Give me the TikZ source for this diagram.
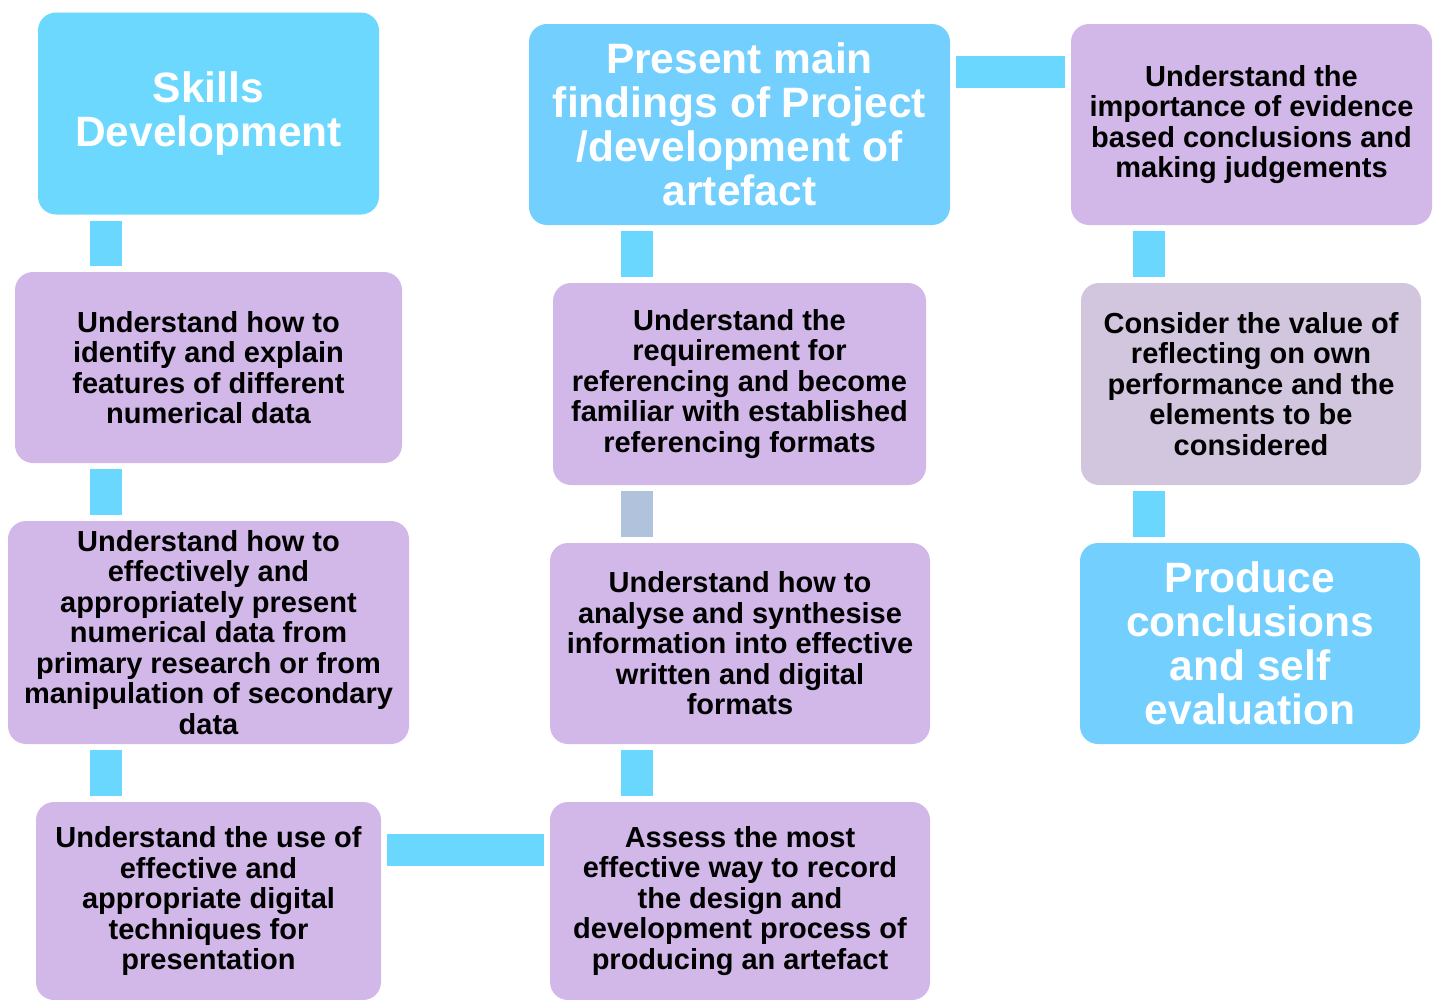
\documentclass[tikz,border=0pt]{standalone}
\usepackage{fontspec}
\setmainfont{Liberation Sans}
\definecolor{skillblue}{HTML}{6CD8FE}
\definecolor{headblue}{HTML}{72CFFE}
\definecolor{lilac}{HTML}{D2B8E8}
\definecolor{greylilac}{HTML}{D2C5DE}
\definecolor{linkblue}{HTML}{6AD7FF}
\definecolor{linkgrey}{HTML}{B0C2DC}
\newcommand{\bodyfont}{\fontsize{29}{30.5}\selectfont\bfseries}
\newcommand{\headfont}{\fontsize{42.5}{44}\selectfont\bfseries}
\begin{document}
\begin{tikzpicture}[x=1pt, y=-1pt,
        stepbox/.style={rounded corners=18pt, fill=lilac, inner sep=0pt, align=center, font=\bodyfont},
        headbox/.style={rounded corners=18pt, fill=headblue, text=white, inner sep=0pt, align=center, font=\headfont},
        link/.style={line width=32pt, draw=linkblue, shorten <=6pt, shorten >=6pt}]
        \useasboundingbox (0, 0) rectangle (1437, 999);
        % first column
        \node[headbox, fill=skillblue, minimum width=341pt, minimum height=202pt] (skills) at (208.5, 113.5) {Skills\\Development};
        \node[stepbox, minimum width=387pt, minimum height=191pt] (numdata) at (208.5, 367.5) {Understand how to\\identify and explain\\features of different\\numerical data};
        \node[stepbox, minimum width=401pt, minimum height=223pt] (presentdata) at (208.5, 632.5) {Understand how to\\effectively and\\appropriately present\\numerical data from\\primary research or from\\manipulation of secondary\\data};
        \node[stepbox, minimum width=345pt, minimum height=198pt] (digital) at (208.5, 901) {Understand the use of\\effective and\\appropriate digital\\techniques for\\presentation};
        % second column
        \node[headbox, minimum width=421pt, minimum height=201pt] (findings) at (739.5, 124.5) {Present main\\findings of Project\\/development of\\artefact};
        \node[stepbox, minimum width=373pt, minimum height=202pt] (referencing) at (739.5, 384) {Understand the\\requirement for\\referencing and become\\familiar with established\\referencing formats};
        \node[stepbox, minimum width=380pt, minimum height=201pt] (synthesise) at (740, 643.5) {Understand how to\\analyse and synthesise\\information into effective\\written and digital\\formats};
        \node[stepbox, minimum width=380pt, minimum height=198pt] (record) at (740, 901) {Assess the most\\effective way to record\\the design and\\development process of\\producing an artefact};
        % third column
        \node[stepbox, minimum width=361pt, minimum height=201pt] (evidence) at (1251.5, 124.5) {Understand the\\importance of evidence\\based conclusions and\\making judgements};
        \node[stepbox, fill=greylilac, minimum width=340pt, minimum height=202pt] (reflect) at (1251, 384) {Consider the value of\\reflecting on own\\performance and the\\elements to be\\considered};
        \node[headbox, minimum width=340pt, minimum height=201pt] (produce) at (1250, 643.5) {Produce\\conclusions\\and self\\evaluation};
        % links
        \draw[link] (skills.south -| 106, 0) -- (numdata.north -| 106, 0);
        \draw[link] (numdata.south -| 106, 0) -- (presentdata.north -| 106, 0);
        \draw[link] (presentdata.south -| 106, 0) -- (digital.north -| 106, 0);
        \draw[link] (digital.east |- 0, 850) -- (record.west |- 0, 850);
        \draw[link] (record.north -| 637, 0) -- (synthesise.south -| 637, 0);
        \draw[link, draw=linkgrey] (synthesise.north -| 637, 0) -- (referencing.south -| 637, 0);
        \draw[link] (referencing.north -| 637, 0) -- (findings.south -| 637, 0);
        \draw[link] (findings.east |- 0, 72) -- (evidence.west |- 0, 72);
        \draw[link] (evidence.south -| 1149, 0) -- (reflect.north -| 1149, 0);
        \draw[link] (reflect.south -| 1149, 0) -- (produce.north -| 1149, 0);
\end{tikzpicture}
\end{document}
